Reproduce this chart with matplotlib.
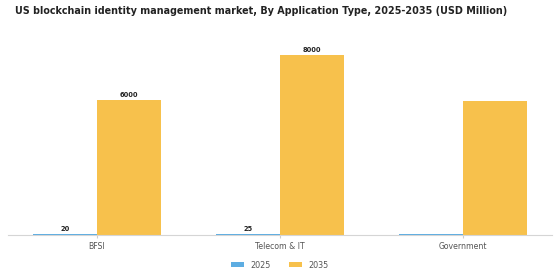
import numpy as np
import matplotlib.pyplot as plt

# ---------- DATA ----------
categories = ['BFSI', 'Telecom & IT', 'Government']
years = ['2025', '2035']
values_2025 = [20, 25, 22]
values_2035 = [6000, 8000, 5950]
show_label_2025 = [True, True, False]
show_label_2035 = [True, True, False]

# ---------- STYLE ----------
COLOR_2025 = '#5DADE2'
COLOR_2035 = '#F7C14C'
BAR_W = 0.35

fig = plt.figure(figsize=(5.6, 2.8), dpi=100)
ax = fig.add_axes([0.014, 0.161, 0.972, 0.707])

x = np.arange(len(categories))
b1 = ax.bar(x - BAR_W / 2, values_2025, BAR_W, color=COLOR_2025, label=years[0])
b2 = ax.bar(x + BAR_W / 2, values_2035, BAR_W, color=COLOR_2035, label=years[1])

ymax = max(values_2035) * 1.1
ax.set_ylim(0, ymax)
for rect, v, show in zip(b1, values_2025, show_label_2025):
    if show:
        ax.text(rect.get_x() + rect.get_width() / 2, v + ymax * 0.012, f"{v}",
                ha='center', va='bottom', fontsize=4.8, fontweight='bold', color='#222222')
for rect, v, show in zip(b2, values_2035, show_label_2035):
    if show:
        ax.text(rect.get_x() + rect.get_width() / 2, v + ymax * 0.012, f"{v}",
                ha='center', va='bottom', fontsize=4.8, fontweight='bold', color='#222222')

ax.set_xticks(x)
ax.set_xticklabels(categories, fontsize=5.6, color='#555555')
ax.tick_params(axis='x', length=2, color='#cccccc', pad=3)
ax.set_yticks([])
for s in ['top', 'right', 'left']:
    ax.spines[s].set_visible(False)
ax.spines['bottom'].set_color('#d5d5d5')
ax.spines['bottom'].set_linewidth(0.8)

fig.text(15 / 560, 1 - 11 / 280, "US blockchain identity management market, By Application Type, 2025-2035 (USD Million)",
         ha='left', va='center', fontsize=6.9, fontweight='bold', color='#222222')

fig.legend(handles=[b1, b2], labels=years, loc='center', bbox_to_anchor=(0.5, 1 - 265 / 280),
           ncol=2, frameon=False, fontsize=5.8, handlelength=1.6, handleheight=0.5,
           handletextpad=0.8, columnspacing=2.2, labelcolor='#555555')

fig.savefig('out.png', dpi=100)
